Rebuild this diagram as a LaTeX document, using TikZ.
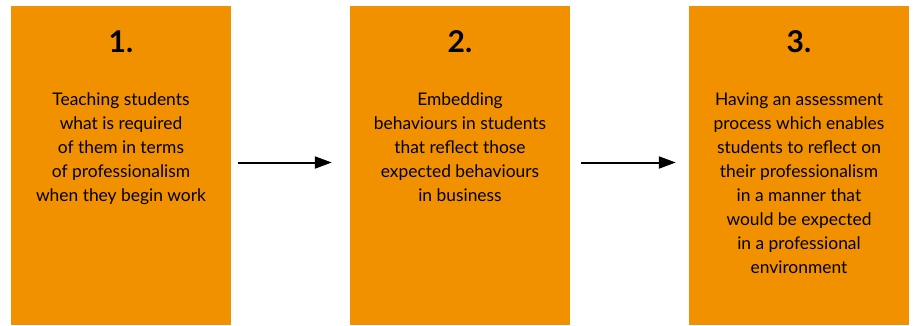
\documentclass[tikz,border=0pt]{standalone}
\usepackage{fontspec}
\setmainfont{Lato}
\usetikzlibrary{arrows.meta}
\definecolor{stageorange}{HTML}{F29100}

\begin{document}
\begin{tikzpicture}[x=1pt,y=1pt,
  stagebox/.style={fill=stageorange,minimum width=220pt,minimum height=319pt,inner sep=0pt},
  stagenum/.style={font=\fontsize{30}{30}\selectfont\bfseries},
  stagetext/.style={anchor=north,align=center,font=\fontsize{17.4}{24}\selectfont},
  flow/.style={-{Triangle[length=17pt,width=12pt]},line width=2pt}]
\useasboundingbox (0,0) rectangle (914,325);
\node[stagebox] (box1) at (121,159.5) {};
\node[stagebox] (box2) at (460,159.5) {};
\node[stagebox] (box3) at (799,159.5) {};
\node[stagenum] (num1) at (121,283) {1.};
\node[stagenum] (num2) at (460,283) {2.};
\node[stagenum] (num3) at (799,283) {3.};
\node[stagetext] (txt1) at (121,236) {Teaching students\\what is required\\of them in terms\\of professionalism\\when they begin work};
\node[stagetext] (txt2) at (460,236) {Embedding\\behaviours in students\\that reflect those\\expected behaviours\\in business};
\node[stagetext] (txt3) at (799,236) {Having an assessment\\process which enables\\students to reflect on\\their professionalism\\in a manner that\\would be expected\\in a professional\\environment};
\draw[flow,shorten <=7pt,shorten >=18pt] ([yshift=3pt]box1.east) -- ([yshift=3pt]box2.west);
\draw[flow,shorten <=11pt,shorten >=13pt] ([yshift=3pt]box2.east) -- ([yshift=3pt]box3.west);
\end{tikzpicture}
\end{document}
